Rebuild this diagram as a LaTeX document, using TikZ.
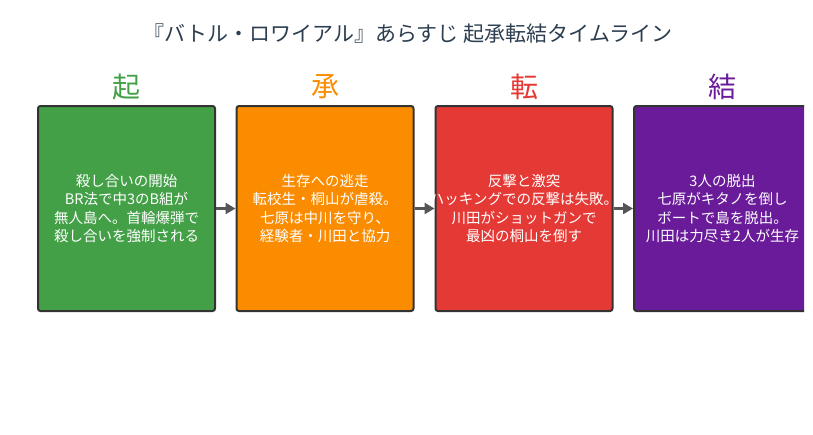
\documentclass[tikz,border=0pt]{standalone}
\usepackage{fontspec}
\setmainfont{Noto Sans CJK JP}
\usetikzlibrary{arrows.meta}
\definecolor{cGreen}{HTML}{43A047}
\definecolor{cOrange}{HTML}{FB8C00}
\definecolor{cRed}{HTML}{E53935}
\definecolor{cPurple}{HTML}{6A1B9A}
\definecolor{cTitle}{HTML}{2C3E50}
\definecolor{cBorder}{HTML}{333333}
\definecolor{cArrow}{HTML}{555555}
\tikzset{
  x=1pt, y=1pt,
  stagebox/.style={draw=cBorder, line width=2pt, rounded corners=2.5pt,
    minimum width=177pt, minimum height=205pt, inner sep=0pt},
  stagetext/.style={text=white, align=center, inner sep=0pt,
    font=\fontsize{14.5}{18.6}\selectfont},
  heading/.style={font=\fontsize{28}{30}\selectfont, inner sep=0pt},
  arr/.style={draw=cArrow, line width=2.6pt,
    -{Triangle[length=10pt,width=11pt]}},
}
\begin{document}
\begin{tikzpicture}
\useasboundingbox (0,0) rectangle (813,-434);
\fill[white] (0,0) rectangle (813,-434);
\begin{scope}
\clip (0,1) rectangle (804,-435);
\node[text=cTitle, font=\fontsize{21}{24}\selectfont, inner sep=0pt] (title) at (408,-34) {『バトル・ロワイアル』あらすじ 起承転結タイムライン};

\node[heading, text=cGreen]  (h1) at (126.5,-87) {起};
\node[heading, text=cOrange] (h2) at (325,-87) {承};
\node[heading, text=cRed]    (h3) at (524,-87) {転};
\node[heading, text=cPurple] (h4) at (722.5,-87) {結};

\node[stagebox, fill=cGreen]  (b1) at (126.5,-208.5) {};
\node[stagebox, fill=cOrange] (b2) at (325,-208.5) {};
\node[stagebox, fill=cRed]    (b3) at (524,-208.5) {};
\node[stagebox, fill=cPurple] (b4) at (722.5,-208.5) {};

\node[stagetext] (t1) at (b1.center) {殺し合いの開始\\BR法で中3のB組が\\無人島へ。首輪爆弾で\\殺し合いを強制される};
\node[stagetext] (t2) at (b2.center) {生存への逃走\\転校生・桐山が虐殺。\\七原は中川を守り、\\経験者・川田と協力};
\node[stagetext] (t3) at (b3.center) {反撃と激突\\ハッキングでの反撃は失敗。\\川田がショットガンで\\最凶の桐山を倒す};
\node[stagetext] (t4) at (b4.center) {3人の脱出\\七原がキタノを倒し\\ボートで島を脱出。\\川田は力尽き2人が生存};

\draw[arr] (b1.east) -- (b2.west);
\draw[arr] (b2.east) -- (b3.west);
\draw[arr] (b3.east) -- (b4.west);
\end{scope}
\end{tikzpicture}
\end{document}
